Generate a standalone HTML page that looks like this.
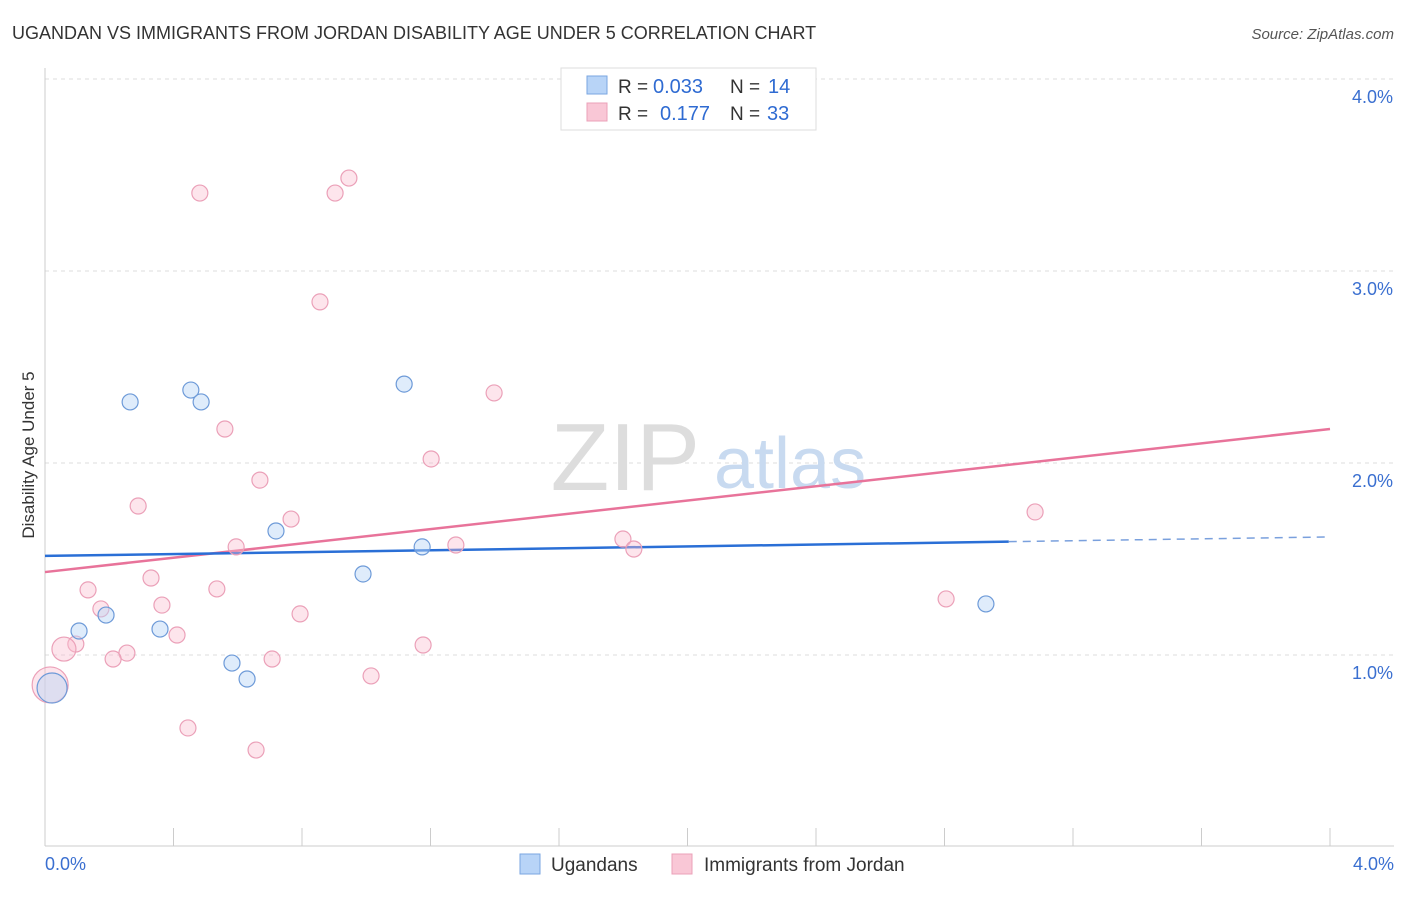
<!DOCTYPE html>
<html><head><meta charset="utf-8"><style>
body{margin:0;background:#fff;font-family:"Liberation Sans",sans-serif}
svg text{font-family:"Liberation Sans",sans-serif}
</style></head><body>
<svg width="1406" height="892" viewBox="0 0 1406 892">
<text x="12" y="39" font-size="18" fill="#333">UGANDAN VS IMMIGRANTS FROM JORDAN DISABILITY AGE UNDER 5 CORRELATION CHART</text>
<text x="1394" y="39" font-size="15" fill="#555" font-style="italic" text-anchor="end">Source: ZipAtlas.com</text>
<g id="grid"></g>
<text x="700" y="490" font-size="96" fill="#ddd" text-anchor="end" font-family="Liberation Serif">ZIP</text>
<text x="714" y="488" font-size="72" fill="#c8daf0">atlas</text>
<g id="axes"></g>
<g id="lines"></g>
<g id="pts"></g>
<text x="34" y="455" font-size="17" fill="#333" text-anchor="middle" transform="rotate(-90 34 455)">Disability Age Under 5</text>
<text x="45" y="870" font-size="18" fill="#3a6fd0">0.0%</text>
<text x="1394" y="870" font-size="18" fill="#3a6fd0" text-anchor="end">4.0%</text>
<g>
<rect x="561" y="68" width="255" height="62" fill="#fff" stroke="#ddd"/>
<rect x="587" y="76" width="20" height="18" fill="#b8d4f7" stroke="#7aa6e0"/>
<rect x="587" y="103" width="20" height="18" fill="#f9c7d6" stroke="#eba0b8"/>
<text x="618" y="93" font-size="19" fill="#333">R =</text>
<text x="653" y="93" font-size="20" fill="#2f6bd2">0.033</text>
<text x="730" y="93" font-size="19" fill="#333">N =</text>
<text x="768" y="93" font-size="20" fill="#2f6bd2">14</text>
<text x="618" y="120" font-size="19" fill="#333">R =</text>
<text x="660" y="120" font-size="20" fill="#2f6bd2">0.177</text>
<text x="730" y="120" font-size="19" fill="#333">N =</text>
<text x="767" y="120" font-size="20" fill="#2f6bd2">33</text>
</g>
<g>
<rect x="520" y="854" width="20" height="20" fill="#b8d4f7" stroke="#7aa6e0"/>
<text x="551" y="871" font-size="19" fill="#333">Ugandans</text>
<rect x="672" y="854" width="20" height="20" fill="#f9c7d6" stroke="#eba0b8"/>
<text x="704" y="871" font-size="19" fill="#333">Immigrants from Jordan</text>
</g>
</svg>
<script>
const yTicks=[1,2,3,4];
const yTickLabels=["1.0%","2.0%","3.0%","4.0%"];
const blueX=[0.265,0.454,0.486,1.118,0.719,1.174,0.990,0.106,0.190,0.358,0.582,0.629,2.929,0.022];
const blueY=[2.318,2.380,2.318,2.411,1.646,1.563,1.422,1.125,1.208,1.135,0.958,0.875,1.266,0.828];
const blueR=[8,8,8,8,8,8,8,8,8,8,8,8,8,15];
const pinkX=[0.482,0.903,0.946,0.856,1.398,0.560,1.202,0.669,0.290,0.766,0.595,1.279,1.799,1.833,3.082,0.134,0.330,0.535,0.364,0.174,0.794,0.411,0.096,0.059,0.255,0.212,0.707,1.177,1.015,2.805,0.445,0.657,0.016];
const pinkY=[3.406,3.406,3.484,2.839,2.365,2.177,2.021,1.911,1.776,1.708,1.563,1.573,1.604,1.552,1.745,1.339,1.401,1.344,1.260,1.240,1.214,1.104,1.057,1.031,1.010,0.979,0.979,1.052,0.891,1.292,0.620,0.505,0.844];
const pinkR=[8,8,8,8,8,8,8,8,8,8,8,8,8,8,8,8,8,8,8,8,8,8,8,12,8,8,8,8,8,8,8,8,18];
const blueTrend=[1.516,1.615];
const pinkTrend=[1.432,2.177];
const NS="http://www.w3.org/2000/svg";
const X=v=>45+v*321.25, Y=v=>847-v*192;
function mk(t,a,p){const e=document.createElementNS(NS,t);for(const k in a)e.setAttribute(k,a[k]);p.appendChild(e);return e;}
const grid=document.getElementById('grid'),axes=document.getElementById('axes');
yTicks.forEach((t,i)=>{const l=mk('line',{x1:45,x2:1394,y1:Y(t),y2:Y(t),stroke:'#ddd','stroke-dasharray':'4,4'},grid);

const tx=mk('text',{x:1393,y:Y(t)+24,'font-size':18,fill:'#3a6fd0','text-anchor':'end'},axes);tx.textContent=yTickLabels[i];
});
mk('line',{x1:45,x2:45,y1:68,y2:846,stroke:'#ccc'},axes);
mk('line',{x1:45,x2:1394,y1:846,y2:846,stroke:'#ccc'},axes);
for(let i=1;i<=10;i++){const x=45+i*128.5;const t=mk('line',{x1:x,x2:x,y1:828,y2:846,stroke:'#ccc'},axes);
}
const lines=document.getElementById('lines');
let l=mk('line',{x1:X(0),y1:Y(pinkTrend[0]),x2:X(4),y2:Y(pinkTrend[1]),stroke:'#e8739a','stroke-width':2.5},lines);

const bAt=v=>blueTrend[0]+(blueTrend[1]-blueTrend[0])*v/4;
l=mk('line',{x1:X(0),y1:Y(bAt(0)),x2:X(3.0),y2:Y(bAt(3.0)),stroke:'#2a6fd6','stroke-width':2.5},lines);

l=mk('line',{x1:X(3.0),y1:Y(bAt(3.0)),x2:X(4),y2:Y(bAt(4)),stroke:'#7aa0dd','stroke-width':1.5,'stroke-dasharray':'8,6'},lines);

const pts=document.getElementById('pts');
pinkX.forEach((v,i)=>{const c=mk('circle',{cx:X(v),cy:Y(pinkY[i]),r:pinkR[i],fill:'rgba(249,190,208,0.4)',stroke:'#eba0b8','stroke-width':1.2},pts);
});
blueX.forEach((v,i)=>{const c=mk('circle',{cx:X(v),cy:Y(blueY[i]),r:blueR[i],fill:'rgba(184,212,247,0.45)',stroke:'#6d9ad8','stroke-width':1.2},pts);
});
</script>
</body></html>
